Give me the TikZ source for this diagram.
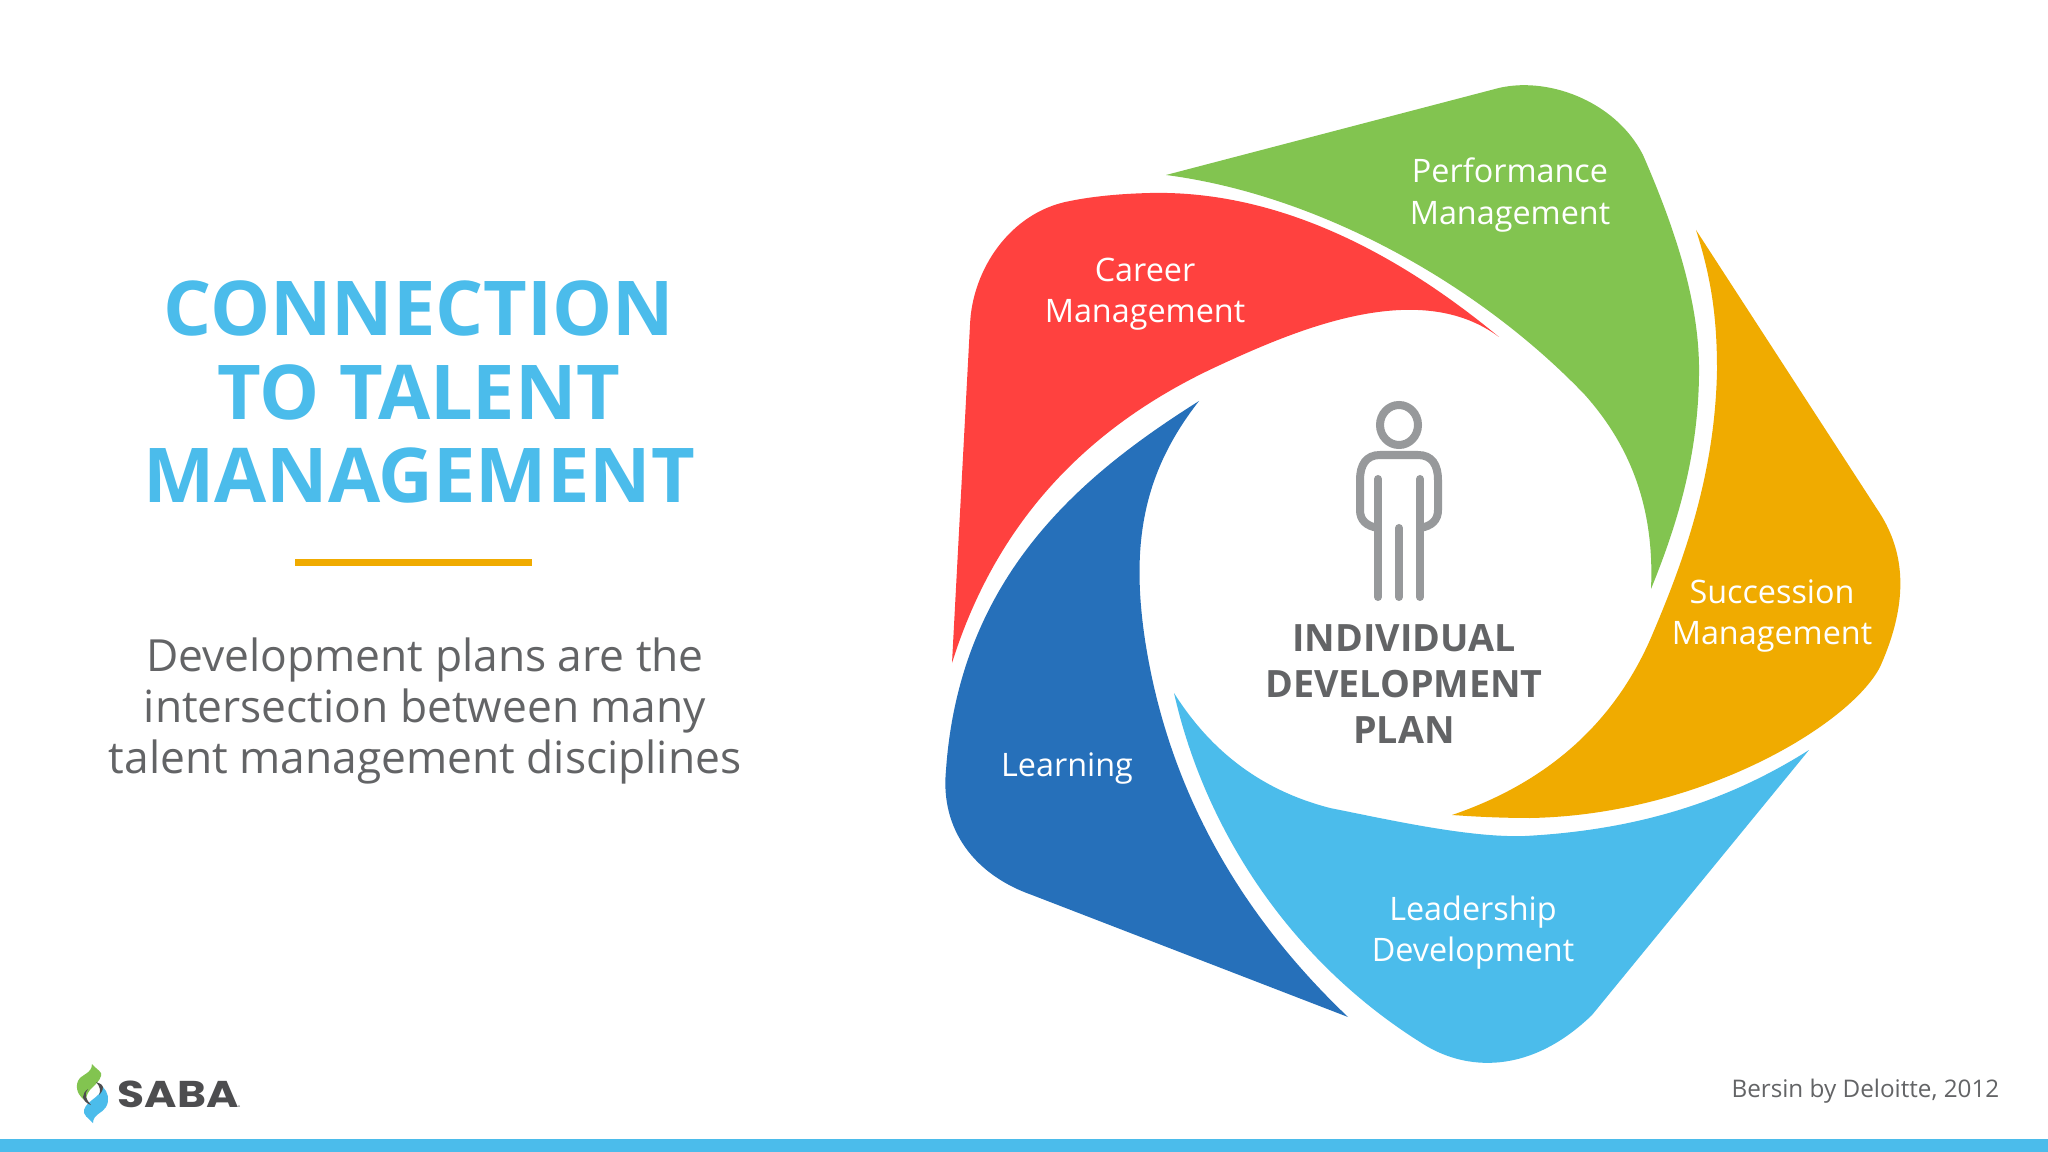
\documentclass[tikz,border=0pt]{standalone}
\usepackage{fontspec}
\setmainfont{Open Sans}
\newfontfamily\logofont[FakeStretch=1.18]{Poppins}
\usetikzlibrary{positioning}
\definecolor{sabablue}{HTML}{4BBCEB}
\definecolor{careerred}{HTML}{FF413F}
\definecolor{perfgreen}{HTML}{82C450}
\definecolor{succorange}{HTML}{F0AB00}
\definecolor{learnblue}{HTML}{2670BA}
\definecolor{bodygray}{HTML}{636466}
\definecolor{icongray}{HTML}{97999B}
\definecolor{logogray}{HTML}{4D4D4F}
\tikzset{
	petallabel/.style={text=white, align=center, font=\fontsize{9.2}{11.7}\selectfont},
	icon/.style={draw=icongray, line width=8*0.2845pt, line cap=round, fill=none},
	titletext/.style={text=sabablue, align=center, font=\bfseries\fontsize{21.5}{23.8}\selectfont},
	bodytext/.style={text=bodygray, align=center, font=\fontsize{12.6}{14.5}\selectfont},
	plantext/.style={text=bodygray, align=center, font=\bfseries\fontsize{10.7}{13.1}\selectfont},
}
\begin{document}
\begin{tikzpicture}[x=.01cm, y=-.01cm]
	\useasboundingbox (0,0) rectangle (2048,1152);
	\fill[white] (0,0) rectangle (2048,1152);
	\fill[sabablue] (0,1139) rectangle (2048,1152);
	% left column
	\node[titletext] (title) at (419,392) {CONNECTION\\TO TALENT\\MANAGEMENT};
	\fill[succorange] (295,559) rectangle (532,566);
	\node[bodytext] (body) at (425,711) {Development plans are the\\intersection between many\\talent management disciplines};
	% petals
	\fill[perfgreen] (1166,175) -- (1495,89) .. controls (1545,75) and (1615,100) .. (1643,155)
		.. controls (1680,240) and (1700,310) .. (1699,375) .. controls (1698,460) and (1675,530) .. (1651,589)
		.. controls (1655,500) and (1625,440) .. (1585,395) .. controls (1480,285) and (1320,195) .. (1166,175) -- cycle;
	\fill[careerred] (1499,337) .. controls (1400,255) and (1280,190) .. (1150,193)
		.. controls (1110,194) and (1085,198) .. (1070,201) .. controls (1010,212) and (972,270) .. (970,325) -- (952,663)
		.. controls (1000,510) and (1100,420) .. (1220,365) .. controls (1300,328) and (1420,278) .. (1499,337) -- cycle;
	\fill[learnblue] (1199,401) .. controls (1090,470) and (960,570) .. (946,770)
		.. controls (940,830) and (975,875) .. (1032,895) -- (1348,1017)
		.. controls (1225,900) and (1165,770) .. (1145,640) .. controls (1130,540) and (1145,470) .. (1199,401) -- cycle;
	\fill[sabablue] (1174,693) .. controls (1205,830) and (1290,960) .. (1420,1042)
		.. controls (1465,1072) and (1530,1075) .. (1592,1015) -- (1809,750)
		.. controls (1730,800) and (1640,830) .. (1525,836) .. controls (1470,838) and (1390,820) .. (1330,808)
		.. controls (1260,790) and (1210,750) .. (1174,693) -- cycle;
	\fill[succorange] (1696,230) -- (1877,509) .. controls (1905,550) and (1910,600) .. (1880,667)
		.. controls (1850,725) and (1700,815) .. (1530,818) .. controls (1505,818) and (1480,817) .. (1452,815)
		.. controls (1540,785) and (1610,730) .. (1650,640) .. controls (1680,570) and (1715,480) .. (1717,370)
		.. controls (1717,320) and (1712,280) .. (1696,230) -- cycle;
	% petal labels
	\node[petallabel] (career) at (1145,294) {Career\\Management};
	\node[petallabel] (performance) at (1510,195) {Performance\\Management};
	\node[petallabel] (succession) at (1772,616) {Succession\\Management};
	\node[petallabel] (leadership) at (1473,933) {Leadership\\Development};
	\node[petallabel] (learning) at (1067,769) {Learning};
	% person
	\draw[icon] (1399,425) ellipse (19 and 20);
	\draw[icon] (1378,528) .. controls (1366,526) and (1360,520) .. (1360,510) -- (1360,480) .. controls (1360,465) and (1366,455) .. (1380,455) -- (1418,455) .. controls (1432,455) and (1438,465) .. (1438,480) -- (1438,510) .. controls (1438,520) and (1432,526) .. (1420,528);
	\coordinate (leftarm) at (1378,479);
	\coordinate (leftfoot) at (1378,597);
	\coordinate (crotch) at (1399,528);
	\coordinate (midfoot) at (1399,597);
	\coordinate (rightarm) at (1420,479);
	\coordinate (rightfoot) at (1420,597);
	\draw[icon] (leftarm) -- (leftfoot);
	\draw[icon] (crotch) -- (midfoot);
	\draw[icon] (rightarm) -- (rightfoot);
	\node[plantext] (plan) at (1404,684) {INDIVIDUAL\\DEVELOPMENT\\PLAN};
	% logo
	\fill[perfgreen] (92,1064) .. controls (97,1070) and (103,1072) .. (101,1076) .. controls (98,1086) and (86,1088) .. (86,1101)
		.. controls (78,1096) and (75,1088) .. (78,1081) .. controls (81,1074) and (92,1074) .. (92,1064) -- cycle;
	\fill[sabablue] (93,1123) .. controls (88,1118) and (83,1115) .. (84,1110) .. controls (87,1100) and (100,1098) .. (103,1087)
		.. controls (108,1092) and (110,1100) .. (106,1107) .. controls (103,1113) and (93,1114) .. (93,1123) -- cycle;
	\fill[logogray] (96,1082) .. controls (102,1084) and (103,1086) .. (103,1087) .. controls (103,1091) and (100,1094) .. (99,1095) .. controls (101,1091) and (100,1086) .. (96,1082) -- cycle;
	\fill[logogray] (88,1089) .. controls (84,1094) and (85,1098) .. (91,1105) .. controls (87,1104) and (83,1100) .. (83,1097) .. controls (83,1094) and (85,1091) .. (88,1089) -- cycle;
	\node[text=logogray, inner sep=0pt, anchor=base west, font=\logofont\bfseries\fontsize{10.6}{12}\selectfont] (saba) at (117,1107) {SABA};
	\fill[icongray] (239,1106) circle (1);
	% source
	\node[text=bodygray, inner sep=0pt, anchor=base east, font=\fontsize{6.9}{9}\selectfont] (source) at (2000,1097) {Bersin by Deloitte, 2012};
\end{tikzpicture}
\end{document}
